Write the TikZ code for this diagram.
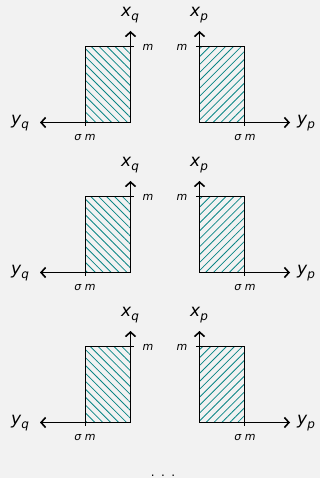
\documentclass[tikz,border=0pt]{standalone}
\usepackage{fontspec}
\setmainfont{DejaVu Sans}
\usetikzlibrary{arrows.meta,patterns.meta}
\definecolor{bgc}{HTML}{F2F2F2}
\definecolor{hatchc}{HTML}{0A8585}
\newcommand\axlab[2]{\textit{#1}\raisebox{-0.45ex}{\fontsize{12}{14}\selectfont\textit{#2}}}
\begin{document}
\begin{tikzpicture}[x=1pt,y=-1pt,
  axisline/.style={line width=1.8pt,-{Straight Barb[length=4.5pt,width=10pt,line width=1.6pt]}},
  regbox/.style={draw=black,line width=0.9pt},
  hatchL/.style={pattern={Lines[angle=-45,distance=5.6pt,line width=0.8pt]},pattern color=hatchc},
  hatchR/.style={pattern={Lines[angle=45,distance=5.6pt,line width=0.8pt]},pattern color=hatchc},
  ticks/.style={line width=0.9pt},
  biglab/.style={font=\fontsize{17}{20}\selectfont, inner sep=0pt},
  smalllab/.style={font=\fontsize{11}{13}\selectfont, inner sep=0pt}]
\fill[bgc] (0,0) rectangle (320,478);
\useasboundingbox (0,0) rectangle (320,478);
\foreach \oy/\i in {0/1,150/2,300/3}{
  % left (q) panel
  \coordinate (oq\i) at (130.5,122.5+\oy);
  \coordinate (tq\i) at (130.5,31+\oy);
  \coordinate (lq\i) at (40,122.5+\oy);
  \coordinate (sq\i) at (85.5,122.5+\oy);
  \coordinate (mq\i) at (130.5,46.5+\oy);
  \fill[hatchL] (85.5,46.5+\oy) rectangle (130.5,122.5+\oy);
  \draw[regbox] (85.5,46.5+\oy) rectangle (130.5,122.5+\oy);
  \draw[axisline] (oq\i) -- (tq\i);
  \draw[axisline] (oq\i) -- (lq\i);
  \draw[ticks] ([yshift=3pt]sq\i) -- ([yshift=-3.5pt]sq\i);
  \draw[ticks] ([xshift=-3pt]mq\i) -- ([xshift=3.5pt]mq\i);
  \node[biglab] (xq\i) at (130,15+\oy) {\axlab{x}{q}};
  \node[biglab] (yq\i) at (20,123+\oy) {\axlab{y}{q}};
  \node[smalllab] (mlq\i) at (148,47+\oy) {\textit{m}};
  \node[smalllab] (slq\i) at (85,137+\oy) {\textit{σ m}};
  % right (p) panel
  \coordinate (op\i) at (199.5,122.5+\oy);
  \coordinate (tp\i) at (199.5,31+\oy);
  \coordinate (rp\i) at (290,122.5+\oy);
  \coordinate (sp\i) at (244.5,122.5+\oy);
  \coordinate (mp\i) at (199.5,46.5+\oy);
  \fill[hatchR] (199.5,46.5+\oy) rectangle (244.5,122.5+\oy);
  \draw[regbox] (199.5,46.5+\oy) rectangle (244.5,122.5+\oy);
  \draw[axisline] (op\i) -- (tp\i);
  \draw[axisline] (op\i) -- (rp\i);
  \draw[ticks] ([yshift=3pt]sp\i) -- ([yshift=-3.5pt]sp\i);
  \draw[ticks] ([xshift=-3.5pt]mp\i) -- ([xshift=3pt]mp\i);
  \node[biglab] (xp\i) at (199,15+\oy) {\axlab{x}{p}};
  \node[biglab] (yp\i) at (306,123+\oy) {\axlab{y}{p}};
  \node[smalllab] (mlp\i) at (182,47+\oy) {\textit{m}};
  \node[smalllab] (slp\i) at (245,137+\oy) {\textit{σ m}};
}
\node[font=\fontsize{12}{14}\selectfont, inner sep=0pt, anchor=base] (dots) at (163,476.5) {.\hspace{6.5pt}.\hspace{6.5pt}.};
\end{tikzpicture}
\end{document}
